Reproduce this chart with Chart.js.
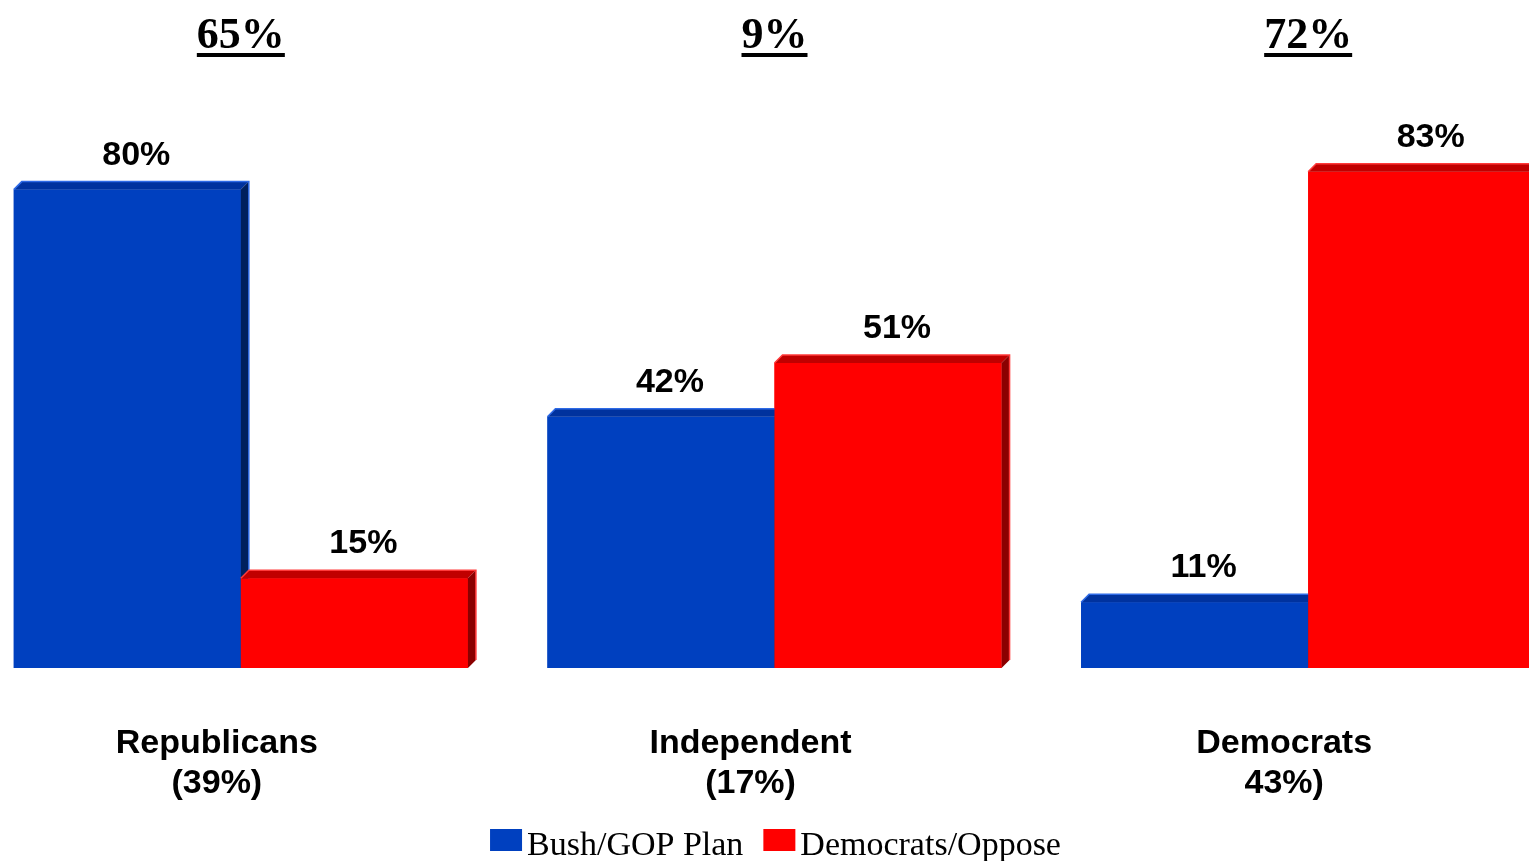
<!DOCTYPE html>
<html>
<head>
<meta charset="utf-8">
<script src="https://cdn.jsdelivr.net/npm/chart.js@4.4.1/dist/chart.umd.min.js"></script>
<style>
  html, body { margin: 0; padding: 0; background: #fff; overflow: hidden; }
  #wrap { position: absolute; left: -26px; top: 0; width: 1601px; height: 861px; }
</style>
</head>
<body>
<div id="wrap"><canvas id="partyChart" width="1601" height="861"></canvas></div>
<script>
// data
var categories = [['Republicans', '(39%)'], ['Independent', '(17%)'], ['Democrats', '43%)']];
var bushPlan = [80, 42, 11];
var democratsOppose = [15, 51, 83];
var gapLabels = ['65%', '9%', '72%'];
var seriesNames = ['Bush/GOP Plan', 'Democrats/Oppose'];

var SANS = '"Liberation Sans", Arial, sans-serif';
var SERIF = '"Liberation Serif", "Times New Roman", serif';

// look of the fake 3d bars
var looks = [
  { front: '#0040BF', top: '#00329E', side: '#00205E', edge: '#2E6AE6' },
  { front: '#FF0000', top: '#C00000', side: '#8A0000', edge: '#FF3A3A' }
];
var DEPTH = 8;

var bars3d = {
  id: 'bars3d',
  afterDatasetsDraw: function (chart) {
    var ctx = chart.ctx;
    chart.data.datasets.forEach(function (ds, di) {
      var meta = chart.getDatasetMeta(di);
      var look = looks[di];
      meta.data.forEach(function (bar) {
        bar.draw(ctx);
        var p = bar.getProps(['x', 'y', 'base', 'width'], true);
        var l = p.x - p.width / 2, r = p.x + p.width / 2, t = p.y, b = p.base;
        ctx.save();
        // top face
        ctx.fillStyle = look.top;
        ctx.beginPath();
        ctx.moveTo(l, t);
        ctx.lineTo(l + DEPTH, t - DEPTH);
        ctx.lineTo(r + DEPTH, t - DEPTH);
        ctx.lineTo(r, t);
        ctx.closePath();
        ctx.fill();
        // right face
        ctx.fillStyle = look.side;
        ctx.beginPath();
        ctx.moveTo(r, t);
        ctx.lineTo(r + DEPTH, t - DEPTH);
        ctx.lineTo(r + DEPTH, b - DEPTH);
        ctx.lineTo(r, b);
        ctx.closePath();
        ctx.fill();
        // light edge
        ctx.strokeStyle = look.edge;
        ctx.lineWidth = 1.5;
        ctx.beginPath();
        ctx.moveTo(l, t);
        ctx.lineTo(l + DEPTH, t - DEPTH);
        ctx.lineTo(r + DEPTH, t - DEPTH);
        ctx.lineTo(r + DEPTH, b - DEPTH);
        ctx.stroke();
        ctx.restore();
      });
    });
    // value labels
    ctx.save();
    ctx.fillStyle = '#000';
    ctx.font = 'bold 34px ' + SANS;
    ctx.textAlign = 'center';
    ctx.textBaseline = 'alphabetic';
    chart.data.datasets.forEach(function (ds, di) {
      chart.getDatasetMeta(di).data.forEach(function (bar, i) {
        ctx.fillText(ds.data[i] + '%', bar.x + 9, bar.y - 25);
      });
    });
    ctx.restore();
  },
  afterDraw: function (chart) {
    var ctx = chart.ctx;
    var xs = chart.scales.x;
    ctx.save();
    // underlined gap numbers on top
    ctx.fillStyle = '#000';
    ctx.font = 'bold 44px ' + SERIF;
    ctx.textAlign = 'center';
    ctx.textBaseline = 'alphabetic';
    gapLabels.forEach(function (txt, i) {
      var cx = xs.getPixelForValue(i);
      var w = ctx.measureText(txt).width;
      ctx.fillText(txt, cx, 48);
      ctx.fillRect(cx - w / 2, 53, w, 4);
    });
    // legend
    ctx.font = '34px ' + SERIF;
    ctx.textAlign = 'left';
    var box = 32, gap = 5, itemGap = 20;
    var total = 0;
    seriesNames.forEach(function (n, i) {
      total += box + gap + ctx.measureText(n).width + (i ? itemGap : 0);
    });
    var area = chart.chartArea;
    var x = (area.left + area.right) / 2 - total / 2 + 1;
    seriesNames.forEach(function (n, i) {
      ctx.fillStyle = looks[i].front;
      ctx.fillRect(x, 829, box, 22);
      ctx.fillStyle = '#000';
      ctx.fillText(n, x + box + gap, 855);
      x += box + gap + ctx.measureText(n).width + itemGap;
    });
    ctx.restore();
  }
};

new Chart('partyChart', {
  type: 'bar',
  data: {
    labels: categories,
    datasets: [
      { label: seriesNames[0], data: bushPlan, backgroundColor: looks[0].front, borderWidth: 0 },
      { label: seriesNames[1], data: democratsOppose, backgroundColor: looks[1].front, borderWidth: 0 }
    ]
  },
  options: {
    responsive: false,
    animation: false,
    devicePixelRatio: 1,
    categoryPercentage: 0.851,
    barPercentage: 1,
    layout: { padding: { top: 70, left: 0, right: 0, bottom: 0 } },
    plugins: {
      legend: { display: false },
      tooltip: { enabled: false }
    },
    scales: {
      x: {
        grid: { display: false, drawTicks: false },
        border: { display: false },
        ticks: {
          color: '#000',
          font: { family: SANS, size: 34, weight: 'bold', lineHeight: 40 / 34 },
          padding: 56,
          labelOffset: -24,
          maxRotation: 0,
          autoSkip: false
        },
        afterFit: function (scale) { scale.height = 193; }
      },
      y: {
        display: false,
        min: 0,
        max: 100
      }
    }
  },
  plugins: [bars3d]
});
</script>
</body>
</html>
